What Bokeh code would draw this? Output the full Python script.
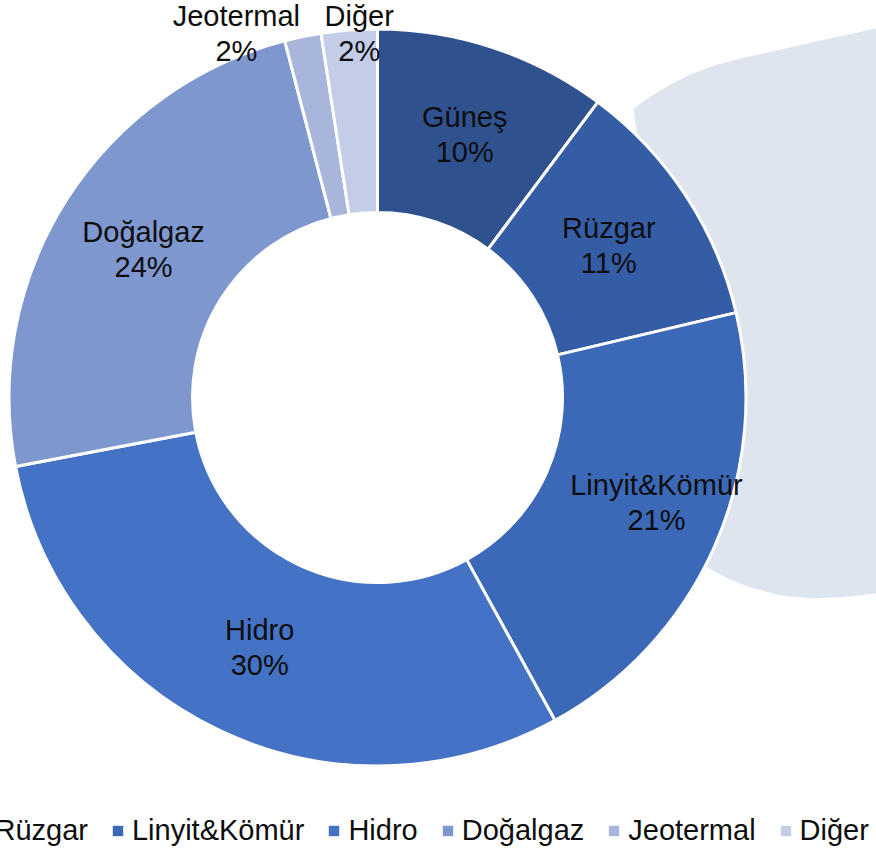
import math
from bokeh.plotting import figure
from bokeh.models import Range1d, ColumnDataSource, Legend, LegendItem
from bokeh.core.properties import value
from bokeh.embed import file_html
from bokeh.resources import INLINE

# ---- data ----
categories = ["Güneş", "Rüzgar", "Linyit&Kömür", "Hidro", "Doğalgaz", "Jeotermal", "Diğer"]
shares = [10.2, 11.1, 20.7, 30.0, 23.95, 1.6, 2.45]
colors = ["#2F528F", "#355DA6", "#3C69B7", "#4472C4", "#7F97CF", "#A9B6DC", "#C4CDE7"]

# ---- style / layout (picture pixels, y down) ----
W, H = 876, 850
CX, CY = 377, 397
R_OUT, R_IN = 368.5, 185
FONT = "Liberation Sans"
FS = "29px"
# label nudges (px) for labels Excel moved
label_shift = [(0, 0), (0, 0), (26, -7), (0, 0), (0, 0), (-85, -93), (3, -88)]
# decorative background shape (px)
bg_shape = [(633, 108), (650, 96), (670, 84), (690, 74), (710, 66), (740, 58), (780, 49),
            (820, 40), (876, 28), (876, 593), (850, 596), (813, 598), (780, 595), (750, 587),
            (725, 577), (707, 567), (690, 555), (660, 300)]

def py(y):
    return H - y

p = figure(width=W, height=H, output_backend="svg", toolbar_location=None,
           x_range=Range1d(0, W), y_range=Range1d(0, H), min_border=0)
p.axis.visible = False
p.grid.visible = False
p.outline_line_color = None
p.background_fill_color = "white"
p.border_fill_color = "white"

p.patch([q[0] for q in bg_shape], [py(q[1]) for q in bg_shape],
        fill_color="#DEE5EF", line_color=None)

total = sum(shares)
starts, ends, mids = [], [], []
cum = 0.0
for v in shares:
    a0 = math.pi / 2 - 2 * math.pi * cum / total
    cum += v
    a1 = math.pi / 2 - 2 * math.pi * cum / total
    starts.append(a1)
    ends.append(a0)
    mids.append((a0 + a1) / 2)

src = ColumnDataSource(dict(start=starts, end=ends, color=colors, cat=categories))
p.annular_wedge(x=CX, y=py(CY), inner_radius=R_IN, outer_radius=R_OUT,
                start_angle="start", end_angle="end", direction="anticlock",
                fill_color="color", line_color="white", line_width=3, source=src)

r_mid = (R_IN + R_OUT) / 2
lx, ly, lt = [], [], []
for i, (cat, v) in enumerate(zip(categories, shares)):
    x = CX + r_mid * math.cos(mids[i]) + label_shift[i][0]
    y = py(CY) + r_mid * math.sin(mids[i]) - label_shift[i][1]
    lx.append(x)
    ly.append(y)
    lt.append(f"{cat}\n{round(v / total * 100)}%")
p.text(x=lx, y=ly, text=lt, text_font=value(FONT), text_font_size=FS,
       text_color="#0D0D0D", text_align="center", text_baseline="middle",
       text_line_height=1.1)

items = []
for cat, c in zip(categories, colors):
    r = p.rect(x=[float("nan")], y=[float("nan")], width=1, height=1,
               fill_color=c, line_color=None)
    items.append(LegendItem(label=cat, renderers=[r]))

legend = Legend(items=items, orientation="horizontal", location=(-156, 3),
                glyph_width=13, glyph_height=13, label_standoff=8, spacing=23,
                padding=0, margin=0, border_line_color=None,
                background_fill_alpha=0, label_text_font=FONT,
                label_text_font_size=FS, label_text_color="#0D0D0D")
p.add_layout(legend, "center")

open("out.html", "w").write(file_html(p, INLINE))
